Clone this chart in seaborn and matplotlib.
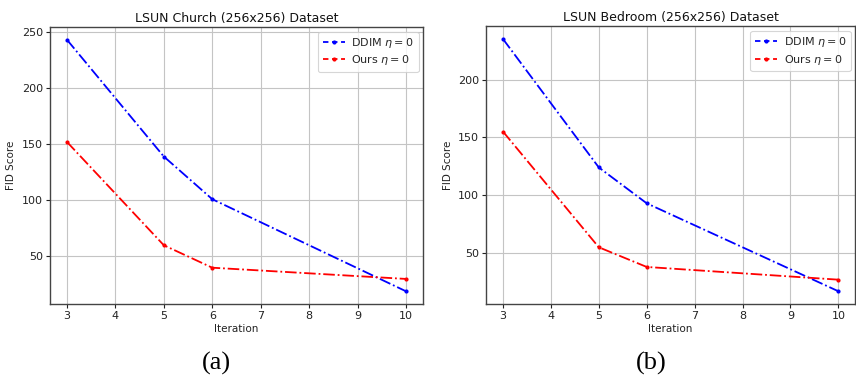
import matplotlib
matplotlib.use("Agg")
import matplotlib.pyplot as plt
import seaborn as sns
import pandas as pd

iterations = [3, 5, 6, 10]
church_ddim = [243, 139, 101, 19]
church_ours = [152, 60, 40, 30]
bedroom_ddim = [235, 124, 93, 17]
bedroom_ours = [155, 55, 38, 27]
titles = ["LSUN Church (256x256) Dataset", "LSUN Bedroom (256x256) Dataset"]
panel_labels = ["(a)", "(b)"]
series_names = [r"DDIM $\eta=0$", r"Ours $\eta=0$"]

sns.set_style("whitegrid")
plt.rcParams["font.family"] = ["DejaVu Sans"]

fig = plt.figure(figsize=(8.56, 3.77), dpi=100)
axes = [fig.add_axes([0.0584, 0.194, 0.4357, 0.734]),
        fig.add_axes([0.568, 0.194, 0.431, 0.736])]

data_sets = [(church_ddim, church_ours), (bedroom_ddim, bedroom_ours)]
colors = ["blue", "red"]

for ax, (ddim, ours), title, plab in zip(axes, data_sets, titles, panel_labels):
    for vals, name, col in zip((ddim, ours), series_names, colors):
        df = pd.DataFrame({"Iteration": iterations, "FID": vals})
        sns.lineplot(data=df, x="Iteration", y="FID", ax=ax, color=col,
                     linestyle="-.", marker=".", markersize=6, markeredgewidth=0,
                     linewidth=1.3, label=name)
    ax.set_title(title, fontsize=9, pad=4, color="#111111")
    ax.set_xlabel("Iteration", fontsize=7.5, labelpad=2, color="#222222")
    ax.set_ylabel("FID Score", fontsize=7.5, labelpad=4, color="#222222")
    ax.tick_params(axis="both", labelsize=8, length=3, width=0.8, pad=2,
                   left=True, bottom=True, colors="#222222")
    ax.set_xticks(range(3, 11))
    ax.grid(True, color="#c4c4c4", linewidth=0.8)
    for sp in ax.spines.values():
        sp.set_color("#444444")
        sp.set_linewidth(1.0)
    ax.margins(x=0.05, y=0.05)
    leg = ax.legend(loc="upper right", fontsize=8, handlelength=2.0,
                    frameon=True, borderaxespad=0.4, labelspacing=0.3,
                    handletextpad=0.6, borderpad=0.4)
    leg.get_frame().set_edgecolor("#cccccc")
    leg.get_frame().set_linewidth(0.8)
    for h in leg.get_lines():
        h.set_linestyle((0, (3, 2)))

fig.text(0.2523, 0.005, panel_labels[0], ha="center", va="bottom",
         fontsize=19, family=["Liberation Serif"], color="black")
fig.text(0.7605, 0.005, panel_labels[1], ha="center", va="bottom",
         fontsize=19, family=["Liberation Serif"], color="black")

fig.savefig("out.png", dpi=100)
